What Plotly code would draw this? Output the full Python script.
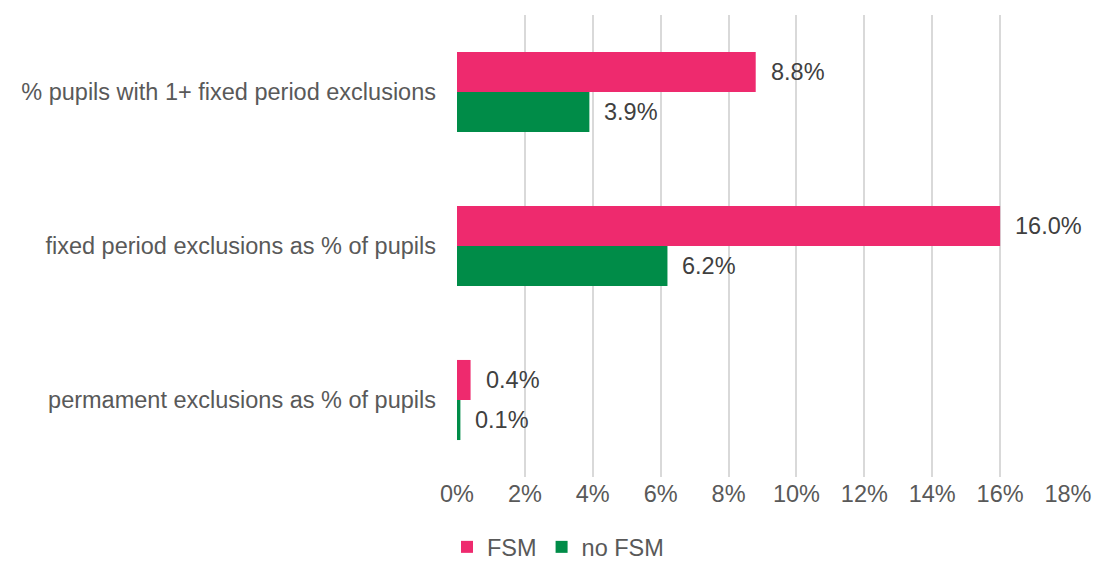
import plotly.graph_objects as go

categories = ["% pupils with 1+ fixed period exclusions",
              "fixed period exclusions as % of pupils",
              "permament exclusions as % of pupils"]
fsm = [8.8, 16.0, 0.4]
no_fsm = [3.9, 6.2, 0.1]
tick_vals = [0, 2, 4, 6, 8, 10, 12, 14, 16, 18]
tick_text = [f"{v}%" for v in tick_vals]

font = "Liberation Sans, Arial, sans-serif"
FS = 23.5

fig = go.Figure()
fig.add_trace(go.Bar(
    y=categories, x=fsm, name="FSM", orientation="h",
    marker=dict(color="#EE2A6E", line=dict(width=0))))
fig.add_trace(go.Bar(
    y=categories, x=no_fsm, name="no FSM", orientation="h",
    marker=dict(color="#008C48", line=dict(width=0))))

annotations = []
for vals, ysh in ((fsm, 20), (no_fsm, -20)):
    for cat, v in zip(categories, vals):
        annotations.append(dict(
            x=v, y=cat, xref="x", yref="y", text=f"{v:.1f}%",
            showarrow=False, xanchor="left", yanchor="middle",
            xshift=13, yshift=ysh,
            font=dict(size=FS, color="#404040", family=font)))

fig.update_layout(
    width=1093, height=564,
    margin=dict(l=457, r=25, t=15, b=87),
    paper_bgcolor="white", plot_bgcolor="white",
    barmode="group", bargap=0.48, bargroupgap=0,
    font=dict(family=font, color="#595959", size=FS),
    annotations=annotations,
    xaxis=dict(range=[0, 18], tickvals=tick_vals, ticktext=tick_text,
               showgrid=True, gridcolor="#D9D9D9", gridwidth=2,
               zeroline=False, showline=False, ticks="", automargin=False,
               tickfont=dict(size=FS, color="#595959")),
    yaxis=dict(autorange="reversed", showgrid=False, zeroline=False,
               showline=False, ticks="", automargin=False,
               ticklabelstandoff=20,
               tickfont=dict(size=FS, color="#595959")),
    legend=dict(orientation="h", xref="container", yref="container",
                x=0.5105, xanchor="center", y=0.03, yanchor="middle",
                font=dict(size=FS, color="#595959"), traceorder="normal",
                itemwidth=30),
    showlegend=True,
)
fig.write_html("out.html",
               config={"displayModeBar": False},
               post_script="document.body.style.margin='0';"
                           "document.body.style.overflow='hidden';")
